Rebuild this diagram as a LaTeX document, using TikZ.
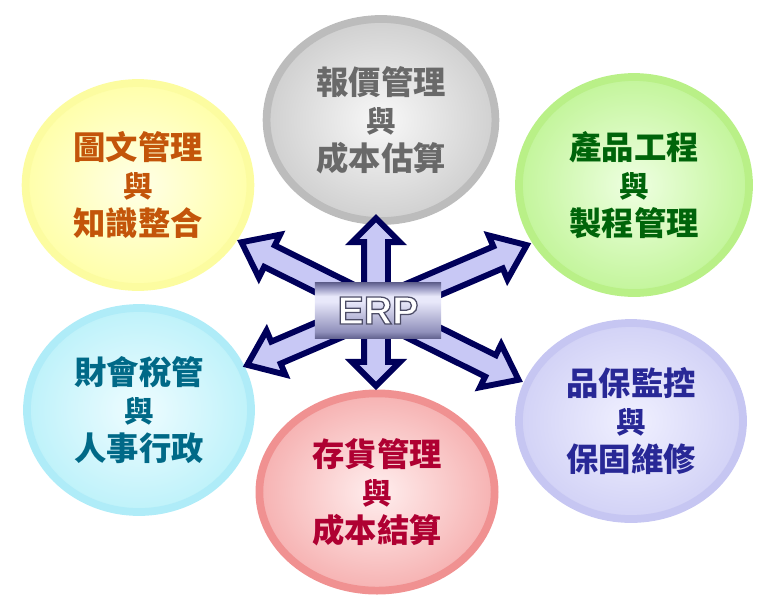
\documentclass[tikz,border=0pt]{standalone}
\usepackage{fontspec}
\setmainfont{Liberation Sans}
\newfontfamily\cjk{Noto Sans CJK TC}
\usepackage{tikz}
\usetikzlibrary{shapes.geometric,shapes.arrows}

\definecolor{navyline}{RGB}{0,0,90}
\definecolor{arrowfill}{RGB}{200,200,245}
\definecolor{erpdark}{RGB}{100,100,145}
\definecolor{erpmid}{RGB}{145,145,188}
\definecolor{erplight}{RGB}{232,232,250}
\pgfdeclareverticalshading{erpshade}{100bp}{color(0bp)=(erpdark); color(25bp)=(erpdark); color(31bp)=(erpmid); color(58bp)=(erplight); color(63bp)=(erplight); color(71bp)=(erpmid); color(75bp)=(erpdark); color(100bp)=(erpdark)}

\newcommand{\yu}{{\fontsize{21}{22}\selectfont 與}}
\newcommand{\outlined}[1]{\special{pdf:code 2 Tr 0.3 0.3 0.4 RG 0.9 w}#1\special{pdf:code 0 Tr}}

\begin{document}
\begin{tikzpicture}[
x=0.025cm, y=-0.025cm,
bubble/.style={ellipse, inner sep=0pt, line width=5.5pt, align=center, font=\cjk\bfseries\fontsize{23}{27}\selectfont},
grayb/.style={bubble, draw={rgb,255:red,188;green,188;blue,188}, inner color={rgb,255:red,248;green,248;blue,248}, outer color={rgb,255:red,208;green,208;blue,208}, text={rgb,255:red,105;green,105;blue,105}},
yellowb/.style={bubble, draw={rgb,255:red,252;green,252;blue,160}, inner color={rgb,255:red,255;green,255;blue,230}, outer color={rgb,255:red,255;green,255;blue,170}, text={rgb,255:red,195;green,85;blue,10}},
greenb/.style={bubble, draw={rgb,255:red,185;green,240;blue,135}, inner color={rgb,255:red,238;green,255;blue,225}, outer color={rgb,255:red,195;green,245;blue,155}, text={rgb,255:red,0;green,100;blue,10}},
cyanb/.style={bubble, draw={rgb,255:red,175;green,236;blue,248}, inner color={rgb,255:red,238;green,252;blue,255}, outer color={rgb,255:red,190;green,242;blue,250}, text={rgb,255:red,0;green,105;blue,135}},
lavb/.style={bubble, draw={rgb,255:red,198;green,198;blue,242}, inner color={rgb,255:red,240;green,240;blue,255}, outer color={rgb,255:red,210;green,210;blue,246}, text={rgb,255:red,40;green,40;blue,150}},
redb/.style={bubble, draw={rgb,255:red,240;green,145;blue,145}, inner color={rgb,255:red,255;green,238;blue,238}, outer color={rgb,255:red,246;green,178;blue,178}, text={rgb,255:red,175;green,0;blue,50}},
link/.style={double arrow, draw=navyline, fill=arrowfill, line width=4.2pt, inner xsep=0pt, inner ysep=0.225cm, double arrow head extend=0.3cm},
erpbox/.style={minimum width=3.15cm, minimum height=1.38cm, shading=erpshade, text=white, font=\bfseries\fontsize{28}{30}\selectfont}
]
\useasboundingbox (0,0) rectangle (775,601);

\node[grayb, minimum width=5.72cm, minimum height=5.05cm] (quote) at (381,120) {報價管理\\\yu\\成本估算};
\node[yellowb, minimum width=5.62cm, minimum height=5.1cm] (docs) at (138,185) {圖文管理\\\yu\\知識整合};
\node[greenb, minimum width=5.75cm, minimum height=5.4cm] (eng) at (634,185) {產品工程\\\yu\\製程管理};
\node[cyanb, minimum width=5.6cm, minimum height=5.1cm] (finance) at (139,410) {財會稅管\\\yu\\人事行政};
\node[lavb, minimum width=5.6cm, minimum height=4.9cm] (qa) at (631,421) {品保監控\\\yu\\保固維修};
\node[redb, minimum width=5.88cm, minimum height=4.93cm] (stock) at (377,492) {存貨管理\\\yu\\成本結算};

\node[link, rotate=90, minimum height=4.19cm, double arrow tip angle=90] (vArrow) at (376,302) {};
\node[link, rotate=-26.4, minimum height=7.73cm, double arrow tip angle=75] (dArrowA) at (380,311) {};
\node[link, rotate=23.2, minimum height=7.6cm, double arrow tip angle=75] (dArrowB) at (387,305) {};

\node[erpbox] (erp) at (378,310.5) {\outlined{ERP}};
\end{tikzpicture}
\end{document}
